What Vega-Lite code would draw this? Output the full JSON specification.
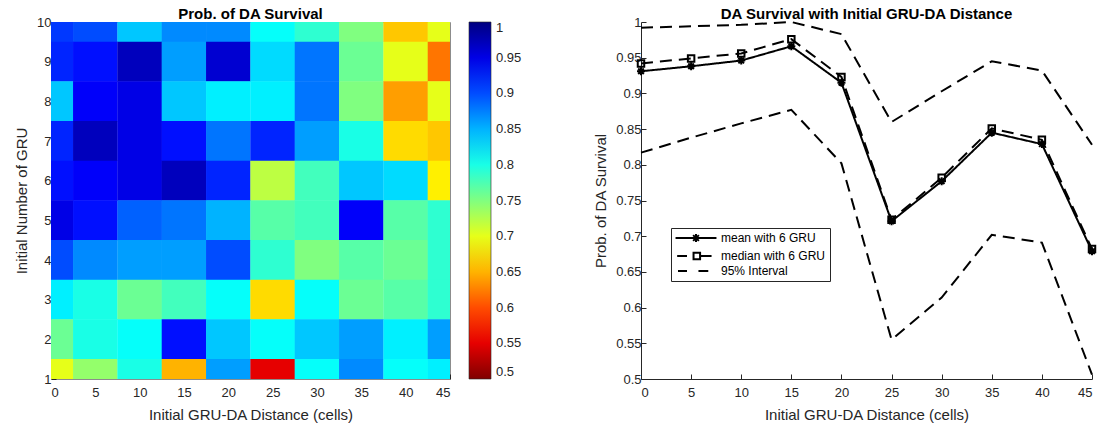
{
  "$schema": "https://vega.github.io/schema/vega-lite/v6.json",
  "background": "white",
  "padding": {"left": 14, "top": 6, "right": 0, "bottom": 0},
  "spacing": 70,
  "resolve": {"legend": {"color": "independent", "shape": "independent", "strokeDash": "independent"}, "scale": {"x": "independent", "y": "independent"}},
  "config": {
    "font": "Liberation Sans",
    "view": {"stroke": null},
    "axis": {
      "labelFont": "Liberation Sans", "labelFontSize": 13, "labelColor": "#262626",
      "titleFont": "Liberation Sans", "titleFontSize": 15, "titleFontWeight": "normal", "titleColor": "#262626",
      "domainColor": "#262626", "tickColor": "#262626", "tickSize": -5, "grid": false,
      "labelPadding": 5, "titlePadding": 7
    },
    "axisX": {"labelPadding": 12, "titlePadding": 8},
    "title": {"font": "Liberation Sans", "fontSize": 15, "fontWeight": "bold", "color": "black", "offset": -6}
  },
  "datasets": {
    "grid": [
      {"d": 0, "n": 10, "p": 0.91}, {"d": 5, "n": 10, "p": 0.90}, {"d": 10, "n": 10, "p": 0.84}, {"d": 15, "n": 10, "p": 0.87}, {"d": 20, "n": 10, "p": 0.87}, {"d": 25, "n": 10, "p": 0.81}, {"d": 30, "n": 10, "p": 0.79}, {"d": 35, "n": 10, "p": 0.75}, {"d": 40, "n": 10, "p": 0.66}, {"d": 45, "n": 10, "p": 0.70},
      {"d": 0, "n": 9, "p": 0.92}, {"d": 5, "n": 9, "p": 0.93}, {"d": 10, "n": 9, "p": 0.97}, {"d": 15, "n": 9, "p": 0.86}, {"d": 20, "n": 9, "p": 0.96}, {"d": 25, "n": 9, "p": 0.83}, {"d": 30, "n": 9, "p": 0.88}, {"d": 35, "n": 9, "p": 0.76}, {"d": 40, "n": 9, "p": 0.70}, {"d": 45, "n": 9, "p": 0.62},
      {"d": 0, "n": 8, "p": 0.84}, {"d": 5, "n": 8, "p": 0.94}, {"d": 10, "n": 8, "p": 0.95}, {"d": 15, "n": 8, "p": 0.84}, {"d": 20, "n": 8, "p": 0.82}, {"d": 25, "n": 8, "p": 0.82}, {"d": 30, "n": 8, "p": 0.88}, {"d": 35, "n": 8, "p": 0.75}, {"d": 40, "n": 8, "p": 0.64}, {"d": 45, "n": 8, "p": 0.70},
      {"d": 0, "n": 7, "p": 0.92}, {"d": 5, "n": 7, "p": 0.97}, {"d": 10, "n": 7, "p": 0.95}, {"d": 15, "n": 7, "p": 0.93}, {"d": 20, "n": 7, "p": 0.88}, {"d": 25, "n": 7, "p": 0.92}, {"d": 30, "n": 7, "p": 0.86}, {"d": 35, "n": 7, "p": 0.80}, {"d": 40, "n": 7, "p": 0.67}, {"d": 45, "n": 7, "p": 0.66},
      {"d": 0, "n": 6, "p": 0.93}, {"d": 5, "n": 6, "p": 0.94}, {"d": 10, "n": 6, "p": 0.95}, {"d": 15, "n": 6, "p": 0.97}, {"d": 20, "n": 6, "p": 0.92}, {"d": 25, "n": 6, "p": 0.72}, {"d": 30, "n": 6, "p": 0.78}, {"d": 35, "n": 6, "p": 0.84}, {"d": 40, "n": 6, "p": 0.83}, {"d": 45, "n": 6, "p": 0.68},
      {"d": 0, "n": 5, "p": 0.95}, {"d": 5, "n": 5, "p": 0.93}, {"d": 10, "n": 5, "p": 0.89}, {"d": 15, "n": 5, "p": 0.88}, {"d": 20, "n": 5, "p": 0.85}, {"d": 25, "n": 5, "p": 0.77}, {"d": 30, "n": 5, "p": 0.78}, {"d": 35, "n": 5, "p": 0.94}, {"d": 40, "n": 5, "p": 0.77}, {"d": 45, "n": 5, "p": 0.79},
      {"d": 0, "n": 4, "p": 0.90}, {"d": 5, "n": 4, "p": 0.87}, {"d": 10, "n": 4, "p": 0.86}, {"d": 15, "n": 4, "p": 0.86}, {"d": 20, "n": 4, "p": 0.90}, {"d": 25, "n": 4, "p": 0.79}, {"d": 30, "n": 4, "p": 0.75}, {"d": 35, "n": 4, "p": 0.77}, {"d": 40, "n": 4, "p": 0.76}, {"d": 45, "n": 4, "p": 0.79},
      {"d": 0, "n": 3, "p": 0.82}, {"d": 5, "n": 3, "p": 0.80}, {"d": 10, "n": 3, "p": 0.76}, {"d": 15, "n": 3, "p": 0.78}, {"d": 20, "n": 3, "p": 0.81}, {"d": 25, "n": 3, "p": 0.67}, {"d": 30, "n": 3, "p": 0.81}, {"d": 35, "n": 3, "p": 0.76}, {"d": 40, "n": 3, "p": 0.77}, {"d": 45, "n": 3, "p": 0.79},
      {"d": 0, "n": 2, "p": 0.76}, {"d": 5, "n": 2, "p": 0.80}, {"d": 10, "n": 2, "p": 0.81}, {"d": 15, "n": 2, "p": 0.93}, {"d": 20, "n": 2, "p": 0.84}, {"d": 25, "n": 2, "p": 0.81}, {"d": 30, "n": 2, "p": 0.84}, {"d": 35, "n": 2, "p": 0.86}, {"d": 40, "n": 2, "p": 0.82}, {"d": 45, "n": 2, "p": 0.86},
      {"d": 0, "n": 1, "p": 0.70}, {"d": 5, "n": 1, "p": 0.74}, {"d": 10, "n": 1, "p": 0.80}, {"d": 15, "n": 1, "p": 0.65}, {"d": 20, "n": 1, "p": 0.86}, {"d": 25, "n": 1, "p": 0.55}, {"d": 30, "n": 1, "p": 0.81}, {"d": 35, "n": 1, "p": 0.87}, {"d": 40, "n": 1, "p": 0.81}, {"d": 45, "n": 1, "p": 0.82}
    ],
    "lines": [
      {"d": 0, "p": 0.931, "stat": "mean with 6 GRU", "line": "mean"},
      {"d": 5, "p": 0.938, "stat": "mean with 6 GRU", "line": "mean"},
      {"d": 10, "p": 0.946, "stat": "mean with 6 GRU", "line": "mean"},
      {"d": 15, "p": 0.966, "stat": "mean with 6 GRU", "line": "mean"},
      {"d": 20, "p": 0.915, "stat": "mean with 6 GRU", "line": "mean"},
      {"d": 25, "p": 0.721, "stat": "mean with 6 GRU", "line": "mean"},
      {"d": 30, "p": 0.777, "stat": "mean with 6 GRU", "line": "mean"},
      {"d": 35, "p": 0.845, "stat": "mean with 6 GRU", "line": "mean"},
      {"d": 40, "p": 0.829, "stat": "mean with 6 GRU", "line": "mean"},
      {"d": 45, "p": 0.679, "stat": "mean with 6 GRU", "line": "mean"},
      {"d": 0, "p": 0.942, "stat": "median with 6 GRU", "line": "median"},
      {"d": 5, "p": 0.949, "stat": "median with 6 GRU", "line": "median"},
      {"d": 10, "p": 0.956, "stat": "median with 6 GRU", "line": "median"},
      {"d": 15, "p": 0.976, "stat": "median with 6 GRU", "line": "median"},
      {"d": 20, "p": 0.923, "stat": "median with 6 GRU", "line": "median"},
      {"d": 25, "p": 0.723, "stat": "median with 6 GRU", "line": "median"},
      {"d": 30, "p": 0.782, "stat": "median with 6 GRU", "line": "median"},
      {"d": 35, "p": 0.851, "stat": "median with 6 GRU", "line": "median"},
      {"d": 40, "p": 0.835, "stat": "median with 6 GRU", "line": "median"},
      {"d": 45, "p": 0.682, "stat": "median with 6 GRU", "line": "median"},
      {"d": 0, "p": 0.992, "stat": "95% Interval", "line": "upper"},
      {"d": 5, "p": 0.994, "stat": "95% Interval", "line": "upper"},
      {"d": 10, "p": 0.996, "stat": "95% Interval", "line": "upper"},
      {"d": 15, "p": 1.0, "stat": "95% Interval", "line": "upper"},
      {"d": 20, "p": 0.983, "stat": "95% Interval", "line": "upper"},
      {"d": 25, "p": 0.860, "stat": "95% Interval", "line": "upper"},
      {"d": 30, "p": 0.903, "stat": "95% Interval", "line": "upper"},
      {"d": 35, "p": 0.945, "stat": "95% Interval", "line": "upper"},
      {"d": 40, "p": 0.932, "stat": "95% Interval", "line": "upper"},
      {"d": 45, "p": 0.828, "stat": "95% Interval", "line": "upper"},
      {"d": 0, "p": 0.817, "stat": "95% Interval", "line": "lower"},
      {"d": 5, "p": 0.838, "stat": "95% Interval", "line": "lower"},
      {"d": 10, "p": 0.858, "stat": "95% Interval", "line": "lower"},
      {"d": 15, "p": 0.877, "stat": "95% Interval", "line": "lower"},
      {"d": 20, "p": 0.802, "stat": "95% Interval", "line": "lower"},
      {"d": 25, "p": 0.555, "stat": "95% Interval", "line": "lower"},
      {"d": 30, "p": 0.614, "stat": "95% Interval", "line": "lower"},
      {"d": 35, "p": 0.702, "stat": "95% Interval", "line": "lower"},
      {"d": 40, "p": 0.691, "stat": "95% Interval", "line": "lower"},
      {"d": 45, "p": 0.506, "stat": "95% Interval", "line": "lower"}
    ]
  },
  "hconcat": [
    {
      "width": 399, "height": 357,
      "view": {"stroke": "#8c8c8c"},
      "title": {"text": "Prob. of DA Survival"},
      "data": {"name": "grid"},
      "mark": {"type": "rect", "width": 44.6, "height": 40, "clip": true},
      "encoding": {
        "x": {"field": "d", "type": "quantitative", "title": "Initial GRU-DA Distance (cells)",
              "scale": {"domain": [0, 45], "nice": false, "zero": false},
              "axis": {"values": [0, 5, 10, 15, 20, 25, 30, 35, 40, 45], "domainColor": "#8c8c8c"}},
        "y": {"field": "n", "type": "quantitative", "title": "Initial Number of GRU",
              "scale": {"domain": [1, 10], "nice": false, "zero": false},
              "axis": {"values": [1, 2, 3, 4, 5, 6, 7, 8, 9, 10], "domainColor": "#8c8c8c"}},
        "color": {"field": "p", "type": "quantitative",
                  "scale": {"type": "linear", "domain": [0.5, 0.5625, 0.6875, 0.8125, 0.9375, 1],
                            "range": ["#800000", "#ff0000", "#ffff00", "#00ffff", "#0000ff", "#000080"], "interpolate": "rgb"},
                  "legend": {"title": null, "type": "gradient", "direction": "vertical", "gradientLength": 357, "gradientThickness": 22,
                             "offset": 19, "padding": 0, "values": [0.5, 0.55, 0.6, 0.65, 0.7, 0.75, 0.8, 0.85, 0.9, 0.95, 1],
                             "format": ".2~f", "labelFont": "Liberation Sans", "labelFontSize": 13, "labelColor": "#262626",
                             "labelOverlap": false, "labelBaseline": "middle", "gradientStrokeColor": "#262626", "gradientStrokeWidth": 0.6, "labelOffset": 5}}
      }
    },
    {
      "width": 451, "height": 357,
      "title": {"text": "DA Survival with Initial GRU-DA Distance"},
      "data": {"name": "lines"},
      "encoding": {
        "x": {"field": "d", "type": "quantitative", "title": "Initial GRU-DA Distance (cells)",
              "scale": {"domain": [0, 45], "nice": false, "zero": false},
              "axis": {"values": [0, 5, 10, 15, 20, 25, 30, 35, 40, 45]}},
        "y": {"field": "p", "type": "quantitative", "title": "Prob. of DA Survival",
              "scale": {"domain": [0.5, 1], "nice": false, "zero": false},
              "axis": {"values": [0.5, 0.55, 0.6, 0.65, 0.7, 0.75, 0.8, 0.85, 0.9, 0.95, 1], "format": ".2~f"}}
      },
      "layer": [
        {
          "mark": {"type": "line", "color": "black", "strokeWidth": 2},
          "encoding": {
            "strokeDash": {"field": "line", "type": "nominal",
              "scale": {"domain": ["mean", "median", "upper", "lower"], "range": [[1, 0], [12, 7], [12, 7], [12, 7]]},
              "legend": null}
          }
        },
        {
          "transform": [{"filter": "datum.line === 'mean'"}],
          "mark": {"type": "point", "shape": "M-1,0H1M0,-1V1M-0.7,-0.7L0.7,0.7M-0.7,0.7L0.7,-0.7", "size": 64, "stroke": "black", "strokeWidth": 2, "filled": false, "opacity": 1}
        },
        {
          "transform": [{"filter": "datum.line === 'median'"}],
          "mark": {"type": "point", "shape": "square", "size": 42, "stroke": "black", "strokeWidth": 2, "filled": false, "opacity": 1}
        },
        {
          "transform": [{"filter": "datum.d < 0"}],
          "mark": {"type": "point", "size": 67, "filled": false, "color": "black", "strokeWidth": 2},
          "encoding": {
            "shape": {"field": "stat", "type": "nominal",
              "scale": {"domain": ["mean with 6 GRU", "median with 6 GRU", "95% Interval"],
                        "range": ["M-5,0H5M-1,0H1M0,-1V1M-0.7,-0.7L0.7,0.7M-0.7,0.7L0.7,-0.7", "M-4.6,0H-2.2M-0.6,-0.8H1V0.8H-0.6ZM1,0H3.8", "M-4.4,0H-2.2M0.6,0H3"]},
              "legend": {
                "title": null, "orient": "none", "legendX": 30, "legendY": 206, "direction": "vertical",
                "fillColor": "white", "strokeColor": "#262626", "padding": 4,
                "labelFont": "Liberation Sans", "labelFontSize": 12, "labelColor": "black",
                "symbolSize": 67, "symbolStrokeWidth": 2, "symbolStrokeColor": "black", "symbolFillColor": "transparent", "symbolOpacity": 1,
                "symbolOffset": 15, "labelOffset": 19, "rowPadding": 1
              }}
          }
        }
      ]
    }
  ]
}
